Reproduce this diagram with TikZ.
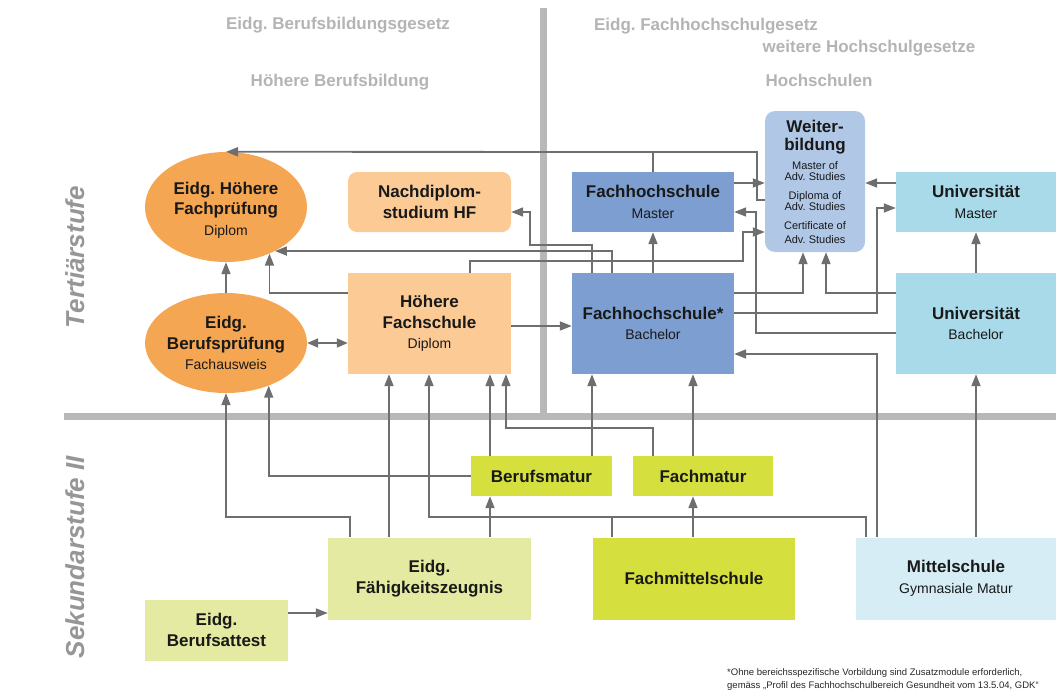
\documentclass[tikz,border=0pt]{standalone}
\usepackage{fontspec}
\setmainfont{Liberation Sans}
\usetikzlibrary{arrows.meta,shapes.geometric}
\frenchspacing

\definecolor{lawgray}{HTML}{B4B4B4}
\definecolor{stufegray}{HTML}{969696}
\definecolor{bargray}{HTML}{B8B8B8}
\definecolor{linegray}{HTML}{6E6E6E}
\definecolor{hbborange}{HTML}{F5A652}
\definecolor{hbblight}{HTML}{FCCA95}
\definecolor{fhblue}{HTML}{7D9ED1}
\definecolor{wbblue}{HTML}{B0C8E6}
\definecolor{unicyan}{HTML}{A8DAEA}
\definecolor{mscyan}{HTML}{D6EDF6}
\definecolor{maturgreen}{HTML}{D5DF3E}
\definecolor{efzgreen}{HTML}{E5EAA2}

\newcommand{\boxsub}[1]{{\mdseries\fontsize{14}{16}\selectfont #1}}

\begin{document}
\begin{tikzpicture}[
  x=1pt, y=-1pt,
  font=\fontsize{14}{16}\selectfont,
  law/.style={text=lawgray, anchor=base, font=\fontsize{17}{20}\selectfont\bfseries},
  stufe/.style={text=stufegray, rotate=90, anchor=base, font=\fontsize{26}{30}\selectfont\bfseries\itshape},
  box/.style={align=center, inner sep=0pt, text=black!90, font=\fontsize{17}{20.5}\selectfont\bfseries},
  oval/.style={ellipse, fill=hbborange, inner sep=0pt, minimum width=162pt},
  hbb/.style={box, fill=hbblight},
  fh/.style={box, fill=fhblue},
  uni/.style={box, fill=unicyan},
  matur/.style={box, fill=maturgreen},
  efzbox/.style={box, fill=efzgreen},
  bar/.style={line width=7pt, draw=bargray},
  link/.style={line width=1.8pt, draw=linegray},
  arrow/.style={link, -{Triangle[length=12pt,width=9pt]}},
  dblarrow/.style={link, {Triangle[length=11pt,width=9pt]}-{Triangle[length=11pt,width=9pt]}},
  note/.style={align=left, anchor=north west, inner sep=0pt, text=black!85, font=\fontsize{9.5}{13.5}\selectfont}
]
\useasboundingbox (0,0) rectangle (1056,696);
\clip (0,0) rectangle (1056,696);

\node[law] (bbg) at (338,29) {Eidg. Berufsbildungsgesetz};
\node[law] (hbbhead) at (340,86) {Höhere Berufsbildung};
\node[law] (fhg) at (706,30) {Eidg. Fachhochschulgesetz};
\node[law] (hsg) at (869,52) {weitere Hochschulgesetze};
\node[law] (hshead) at (819,86) {Hochschulen};

\node[stufe] (tert) at (84,257) {Tertiärstufe};
\node[stufe] (sek) at (84,557) {Sekundarstufe II};

\draw[bar] (543,8) -- (543,416);
\draw[bar] (64,416) -- (1056,416);

\node[oval, minimum height=110pt] (hfp) at (226,207) {};
\node[box] (hfptext) at ([yshift=-3pt]hfp.center) {Eidg. Höhere\\Fachprüfung\\\boxsub{Diplom}};
\node[oval, minimum height=100pt] (bp) at (226,343) {};
\node[box] (bptext) at (bp) {Eidg.\\Berufsprüfung\\\boxsub{Fachausweis}};
\node[hbb, rounded corners=9pt, minimum width=163pt, minimum height=60pt] (nd) at (429.5,202) {Nachdiplom-\\studium HF};
\node[hbb, minimum width=163pt, minimum height=101pt] (hf) at (429.5,323.5) {Höhere\\Fachschule\\\boxsub{Diplom}};
\node[fh, minimum width=162pt, minimum height=60pt] (fhm) at (653,202) {Fachhochschule\\\boxsub{Master}};
\node[fh, minimum width=162pt, minimum height=101pt] (fhb) at (653,323.5) {Fachhochschule*\\\boxsub{Bachelor}};
\node[box, fill=wbblue, rounded corners=10pt, minimum width=100pt, minimum height=141pt, font=\fontsize{11}{11}\selectfont] (wb) at (815,181.5)
  {{\bfseries\fontsize{17}{18}\selectfont Weiter-}\\[5pt]
   {\bfseries\fontsize{17}{18}\selectfont bildung}\\[6pt]
   Master of\\Adv. Studies\\[8pt]
   Diploma of\\Adv. Studies\\[8pt]
   Certificate of\\[3pt]Adv. Studies};
\node[uni, minimum width=160pt, minimum height=60pt] (um) at (976,202) {Universität\\\boxsub{Master}};
\node[uni, minimum width=160pt, minimum height=101pt] (ub) at (976,323.5) {Universität\\\boxsub{Bachelor}};
\node[matur, minimum width=141pt, minimum height=40pt] (bm) at (541.5,476) {Berufsmatur};
\node[matur, minimum width=140pt, minimum height=40pt] (fm) at (703,476) {Fachmatur};
\node[efzbox, minimum width=203pt, minimum height=82pt] (efz) at (429.5,578.5) {Eidg.\\Fähigkeitszeugnis};
\node[matur, minimum width=202pt, minimum height=82pt] (fms) at (694,578.5) {Fachmittelschule};
\node[box, fill=mscyan, minimum width=200pt, minimum height=82pt] (ms) at (956,578.5) {Mittelschule\\\boxsub{Gymnasiale Matur}};
\node[efzbox, minimum width=143pt, minimum height=61pt] (ba) at (216.5,630) {Eidg.\\Berufsattest};

\draw[arrow] (wb.west |- 0,200) -| (757,152) -- (hfp.north);
\draw[link] (fhm.north) -- (fhm.north |- hfp.north);
\draw[arrow] (fhm.east |- 0,183) -- (wb.west |- 0,183);
\draw[arrow] (um.west |- 0,183) -- (wb.east |- 0,183);
\draw[arrow] (ub.west |- 0,333) -| (756,212) -- (fhm.east |- 0,212);
\draw[arrow] (hf.north -| 470,0) |- (743,261) |- (wb.west |- 0,232);
\draw[arrow] (fhb.north -| 592,0) |- (530,245) |- (nd.east |- 0,212);
\draw[arrow] (fhb.north -| 612,0) |- (hfp.-42);
\draw[arrow] (hf.west |- 0,293) -| (hfp.-47);
\draw[arrow] (bp.north) -- (hfp.south);
\draw[dblarrow] (bp.east) -- (bp.east -| hf.west);
\draw[arrow] (efz.north -| 350,0) |- (226,517) -- (bp.south);
\draw[arrow] (bm.west) -| (bp.-45);
\draw[arrow] (efz.north -| 389,0) -- (hf.south -| 389,0);
\draw[arrow] (ms.north -| 866,0) |- (429,517) -- (hf.south -| 429,0);
\draw[link] (fms.north -| 612,0) -- (612,517);
\draw[arrow] (efz.north -| 490,0) -- (bm.south -| 490,0);
\draw[arrow] (bm.north -| 490,0) -- (hf.south -| 490,0);
\draw[arrow] (fm.north -| 653,0) |- (506,428) -- (hf.south -| 506,0);
\draw[arrow] (bm.north -| 592,0) -- (fhb.south -| 592,0);
\draw[arrow] (fm.north -| 693,0) -- (fhb.south -| 693,0);
\draw[arrow] (fms.north -| 693,0) -- (fm.south -| 693,0);
\draw[arrow] (ms.north -| 877,0) |- (fhb.east |- 0,354);
\draw[arrow] (ub.south |- ms.north) -- (ub.south);
\draw[arrow] (ub.north) -- (um.south);
\draw[arrow] (fhb.north) -- (fhm.south);
\draw[arrow] (hf.east |- 0,326) -- (fhb.west |- 0,326);
\draw[arrow] (fhb.east |- 0,293) -| (wb.south -| 803,0);
\draw[arrow] (fhb.east |- 0,313) -| (877,208) -- (um.west |- 0,208);
\draw[arrow] (ub.west |- 0,293) -| (wb.south -| 826,0);
\draw[arrow] (ba.east |- 0,613) -- (efz.west |- 0,613);

\node[note] (fnote) at (727,668)
  {*Ohne bereichsspezifische Vorbildung sind Zusatzmodule erforderlich,\\gemäss „Profil des Fachhochschulbereich Gesundheit vom 13.5.04, GDK“};

\end{tikzpicture}
\end{document}
